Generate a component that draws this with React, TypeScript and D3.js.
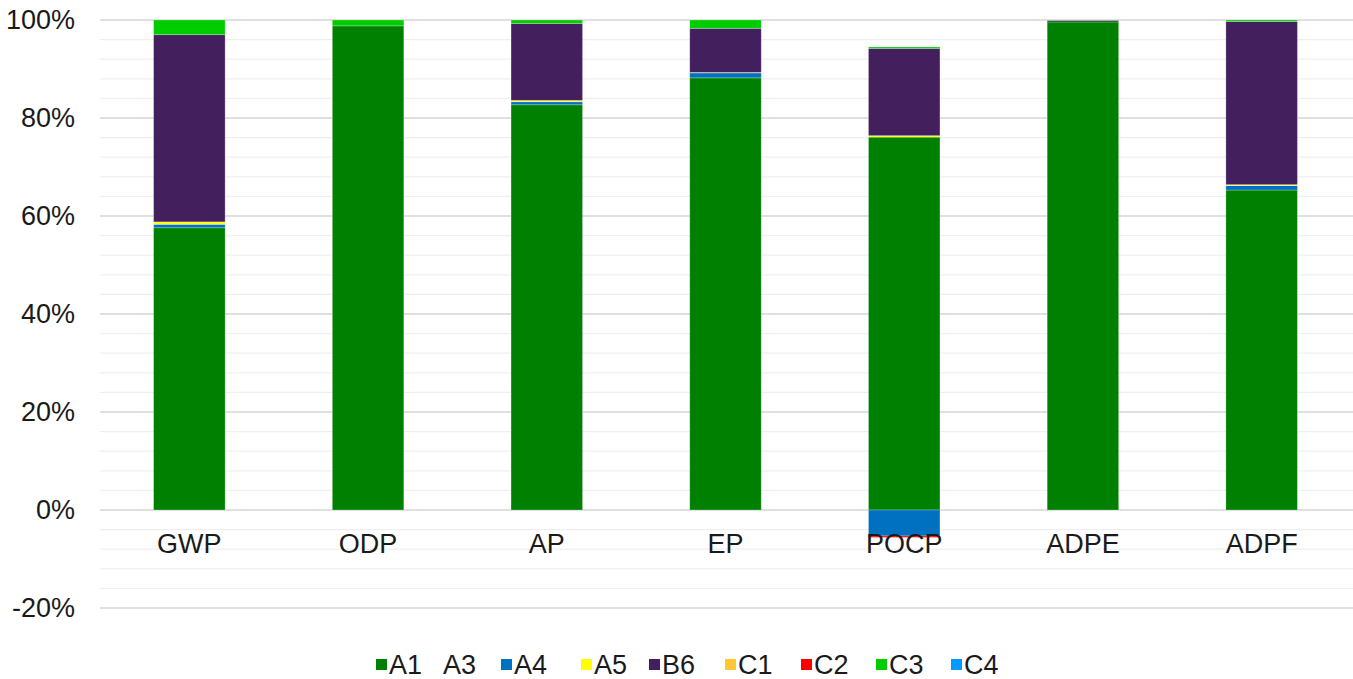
import React from "react";
import * as d3 from "d3";

const categories = ["GWP", "ODP", "AP", "EP", "POCP", "ADPE", "ADPF"];

const seriesNames = ["A1   A3", "A4", "A5", "B6", "C1", "C2", "C3", "C4"];
const seriesColors = ["#008000", "#0070C0", "#FFFF00", "#441F5E", "#FFC832", "#FF0000", "#00CC00", "#0099FF"];

// percent contributions per stage
const a1a3 = [57.6, 98.8, 82.7, 88.2, 76.1, 99.6, 65.3];
const a4 = [0.7, 0, 0.6, 1.0, -5.3, 0, 0.9];
const a5 = [0.5, 0, 0.3, 0.1, 0.3, 0, 0.2];
const b6 = [38.2, 0, 15.7, 9.0, 17.8, 0.3, 33.3];
const c1 = [0, 0, 0, 0, 0, 0, 0];
const c2 = [0, 0, 0, 0, -0.3, 0, 0];
const c3 = [3.0, 1.2, 0.7, 1.7, 0.3, 0.1, 0.3];
const c4 = [0, 0, 0, 0, 0, 0, 0];

const yTicks = [-20, 0, 20, 40, 60, 80, 100];

const width = 1353;
const height = 679;
const left = 100;
const right = 1351;
const top = 20;
const bottom = 608;

const font = "'Liberation Sans', Arial, sans-serif";

export default function App() {
  const allSeries = [a1a3, a4, a5, b6, c1, c2, c3, c4];
  const rows = categories.map((cat, i) => {
    const row: Record<string, any> = { cat };
    seriesNames.forEach((s, j) => (row[s] = allSeries[j][i]));
    return row;
  });

  const stacked = d3
    .stack<Record<string, any>>()
    .keys(seriesNames)
    .offset(d3.stackOffsetDiverging)(rows);

  const x = d3.scaleBand().domain(categories).range([left, right]).paddingInner(0.6).paddingOuter(0.3);
  const y = d3.scaleLinear().domain([-20, 100]).range([bottom, top]);

  const minorTicks = d3.range(-20, 100.1, 4);

  // legend layout
  const legendX = [376, 501, 581, 649, 725, 801, 876, 951];

  return (
    <svg width={width} height={height} style={{ position: "absolute", left: 0, top: 0, background: "#fff" }}>
      <g>
        {minorTicks.map((t) => (
          <line key={"m" + t} x1={left} x2={right + 2} y1={y(t)} y2={y(t)} stroke="#efefef" strokeWidth={1.2} />
        ))}
        {yTicks.map((t) => (
          <line key={"g" + t} x1={left} x2={right + 2} y1={y(t)} y2={y(t)} stroke="#d9d9d9" strokeWidth={1.4} />
        ))}
      </g>
      <g>
        {stacked.map((layer, j) => (
          <g key={layer.key} fill={seriesColors[j]}>
            {layer.map((d, i) => {
              const h = Math.abs(y(d[0]) - y(d[1]));
              if (h < 0.01) return null;
              return (
                <rect
                  key={i}
                  x={x(categories[i])}
                  width={x.bandwidth()}
                  y={Math.min(y(d[0]), y(d[1]))}
                  height={h}
                  stroke="rgba(255,255,255,0.3)"
                  strokeWidth={0.8}
                />
              );
            })}
          </g>
        ))}
      </g>
      <g fontFamily={font} fontSize={27} fill="#1a1a1a">
        {yTicks.map((t) => (
          <text key={"t" + t} x={75} y={y(t)} dy="0.33em" textAnchor="end">
            {t + "%"}
          </text>
        ))}
        {categories.map((c) => (
          <text key={c} x={(x(c) as number) + x.bandwidth() / 2} y={553} textAnchor="middle">
            {c}
          </text>
        ))}
      </g>
      <g fontFamily={font} fontSize={27} fill="#1a1a1a">
        {seriesNames.map((s, j) => (
          <g key={s} transform={`translate(${legendX[j]},665)`}>
            <rect x={0} y={-6} width={11} height={11} fill={seriesColors[j]} />
            <text x={13} y={0} dy="0.35em" style={{ whiteSpace: "pre" }}>
              {s}
            </text>
          </g>
        ))}
      </g>
    </svg>
  );
}
